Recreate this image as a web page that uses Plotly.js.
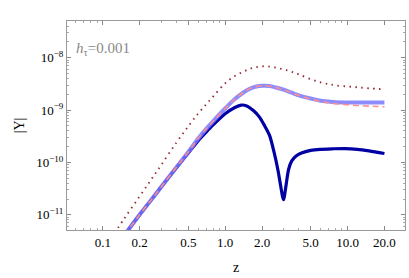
<!DOCTYPE html>
<html><head><meta charset="utf-8">
<script src="https://cdn.plot.ly/plotly-3.0.1.min.js"></script>
<style>html,body{margin:0;padding:0;background:#fff}#c{width:409px;height:278px}</style>
</head><body><div id="c"></div>
<script>
// z grid for the three smooth curves
var zA = [0.15,0.2,0.25,0.3,0.4,0.5,0.6,0.7,0.8,1.0,1.2,1.4,1.6,1.8,2.0,2.3,2.6,3.0,3.5,4,5,6,7,8,10,12,15,20];
// light blue thick solid
var yLight = [4.07e-12,1.0e-11,1.95e-11,3.39e-11,8.13e-11,1.58e-10,2.82e-10,4.37e-10,6.17e-10,1.07e-9,1.62e-9,2.14e-9,2.57e-9,2.82e-9,2.91e-9,2.88e-9,2.69e-9,2.45e-9,2.14e-9,1.91e-9,1.66e-9,1.51e-9,1.45e-9,1.41e-9,1.40e-9,1.40e-9,1.40e-9,1.40e-9];
// pink dashed
var yPink = [4.07e-12,1.0e-11,1.95e-11,3.39e-11,8.13e-11,1.58e-10,2.82e-10,4.37e-10,6.17e-10,1.07e-9,1.62e-9,2.14e-9,2.57e-9,2.82e-9,2.91e-9,2.88e-9,2.69e-9,2.45e-9,2.14e-9,1.91e-9,1.62e-9,1.46e-9,1.38e-9,1.32e-9,1.26e-9,1.22e-9,1.19e-9,1.15e-9];
// dark red dotted
var zDot = [0.125,0.15,0.2,0.25,0.3,0.4,0.5,0.6,0.7,0.8,1.0,1.2,1.4,1.6,1.8,2.0,2.3,2.6,3.0,3.5,4,5,6,7,8,10,12,15,20];
var yDot = [4.47e-12,8.51e-12,2.24e-11,4.79e-11,8.91e-11,2.40e-10,4.90e-10,8.51e-10,1.29e-9,1.82e-9,3.24e-9,4.47e-9,5.37e-9,6.17e-9,6.61e-9,6.84e-9,6.76e-9,6.46e-9,5.96e-9,5.37e-9,4.79e-9,3.89e-9,3.39e-9,3.13e-9,2.95e-9,2.82e-9,2.72e-9,2.60e-9,2.48e-9];
// navy thick solid with dip
var zNavy = [0.15,0.2,0.25,0.3,0.4,0.5,0.6,0.7,0.8,1.0,1.2,1.35,1.5,1.7,1.9,2.1,2.3,2.5,2.7,2.85,2.95,3.0,3.05,3.15,3.3,3.5,3.8,4.2,5,6,7.5,9.5,12,15,20];
var yNavy = [4.07e-12,1.0e-11,1.95e-11,3.39e-11,7.94e-11,1.51e-10,2.57e-10,3.80e-10,5.25e-10,8.51e-10,1.12e-9,1.245e-9,1.20e-9,9.77e-10,7.41e-10,5.01e-10,3.31e-10,1.62e-10,7.08e-11,3.39e-11,2.19e-11,1.95e-11,2.29e-11,3.80e-11,7.41e-11,1.07e-10,1.32e-10,1.51e-10,1.70e-10,1.78e-10,1.82e-10,1.84e-10,1.78e-10,1.66e-10,1.48e-10];

var xTickVals = [0.1,0.2,0.5,1,2,5,10,20];
var xTickText = ["0.1","0.2","0.5","1.0","2.0","5.0","10.0","20.0"];
var xMinor = [0.06,0.07,0.08,0.09,0.3,0.4,0.6,0.7,0.8,0.9,3,4,6,7,8,9];
var yTickVals = [1e-11,1e-10,1e-9,1e-8];
var yTickText = ["10<sup>\u221211</sup>","10<sup>\u221210</sup>","10<sup>\u22129</sup>","10<sup>\u22128</sup>"];
var yMinor = [];
[-12,-11,-10,-9,-8].forEach(function(e){[2,3,4,5,6,7,8,9].forEach(function(m){yMinor.push(m*Math.pow(10,e));});});

var traces = [
  {x:zNavy, y:yNavy, mode:'lines', line:{color:'rgb(0,0,165)', width:3.2, shape:'spline', smoothing:0.8}},
  {x:zA, y:yLight, mode:'lines', line:{color:'rgba(120,120,255,0.85)', width:4, shape:'spline'}},
  {x:zA, y:yPink, mode:'lines', line:{color:'rgb(255,140,140)', width:1.6, dash:'6px,4px', shape:'spline'}},
  {x:zDot, y:yDot, mode:'lines', line:{color:'rgb(150,40,50)', width:1.8, dash:'1.5px,4.5px', shape:'spline'}}
];

var SERIF = "Liberation Serif";
var axFont = {family:SERIF, size:13, color:'#000'};
var layout = {
  width:409, height:278,
  margin:{l:67, r:4, t:21, b:48},
  showlegend:false,
  font:{family:SERIF},
  paper_bgcolor:'#fff', plot_bgcolor:'#fff',
  xaxis:{type:'log', range:[-1.292,1.469], tickmode:'array', tickvals:xTickVals, ticktext:xTickText,
    ticks:'inside', ticklen:4, tickcolor:'#888', showline:true, linecolor:'#999', linewidth:1, mirror:'ticks',
    showgrid:false, zeroline:false, tickfont:axFont,
    minor:{tickmode:'array', tickvals:xMinor, ticks:'inside', ticklen:2, tickcolor:'#aaa', showgrid:false},
    title:{text:'z', font:{family:SERIF, size:14, color:'#000'}, standoff:13}},
  yaxis:{type:'log', range:[-11.29,-7.30], tickmode:'array', tickvals:yTickVals, ticktext:yTickText,
    ticks:'inside', ticklen:4, tickcolor:'#888', showline:true, linecolor:'#999', linewidth:1, mirror:'ticks',
    showgrid:false, zeroline:false, tickfont:axFont,
    minor:{tickmode:'array', tickvals:yMinor, ticks:'inside', ticklen:2, tickcolor:'#aaa', showgrid:false},
    title:{text:'|Y|', font:{family:SERIF, size:14, color:'#000'}, standoff:8}},
  annotations:[{xref:'paper', yref:'paper', x:0.022, y:0.865, xanchor:'left', yanchor:'middle', showarrow:false,
    text:'<i>h</i><sub>\u03c4</sub>=0.001', font:{family:SERIF, size:15, color:'#888'}}]
};
Plotly.newPlot('c', traces, layout, {staticPlot:true, displayModeBar:false});
</script>
</body></html>
